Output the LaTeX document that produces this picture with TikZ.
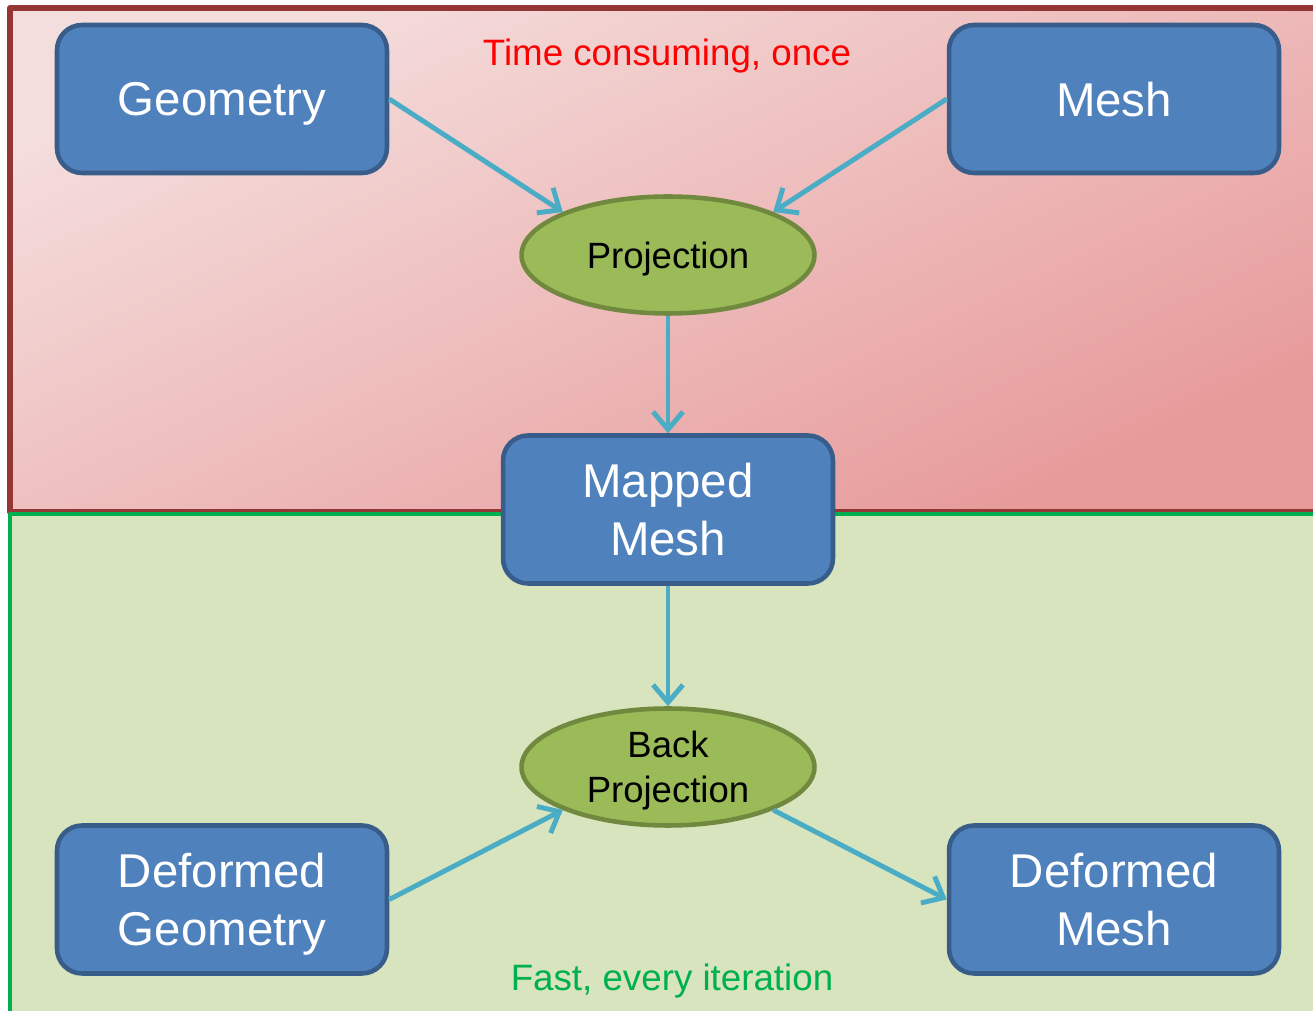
\documentclass[tikz,border=0pt]{standalone}
\usepackage{fontspec}
\setmainfont{Liberation Sans}
\usetikzlibrary{shapes.geometric,arrows.meta}
\definecolor{boxfill}{HTML}{4F81BD}
\definecolor{boxline}{HTML}{385D8A}
\definecolor{ellfill}{HTML}{9BBB59}
\definecolor{ellline}{HTML}{71893F}
\definecolor{arrcol}{HTML}{4BACC6}
\definecolor{redline}{HTML}{943634}
\definecolor{redlight}{HTML}{F4DEDD}
\definecolor{reddark}{HTML}{E79A9A}
\definecolor{grnline}{HTML}{00B050}
\definecolor{grnfill}{HTML}{D7E4BD}
\begin{document}
\begin{tikzpicture}[x=0.02cm, y=0.02cm, line join=round,
	blok/.style={draw=boxline, fill=boxfill, line width=2.6pt, rounded corners=0.5cm, minimum width=6.6cm, minimum height=2.96cm, inner sep=0pt, text depth=0pt, align=center, text=white, font=\fontsize{27}{33}\selectfont},
	oval/.style={ellipse, draw=ellline, fill=ellfill, line width=2.6pt, minimum width=5.86cm, minimum height=2.34cm, inner sep=0pt, text depth=0pt, align=center, font=\fontsize{20.8}{25.5}\selectfont},
	pijl/.style={draw=arrcol, line width=2.8pt, -{Straight Barb[length=10pt,width=17pt,line width=2.8pt]}}]
	\useasboundingbox (0,0) rectangle (1313,1011);
	\shade[top color=redlight, bottom color=reddark, shading angle=25] (10,499) rectangle (1330,1003);
	\draw[redline, line width=3.3pt] (1330,1003) -- (10,1003) -- (10,499) -- (1330,499);
	\fill[grnfill] (10,499) rectangle (1330,-20);
	\draw[grnline, line width=2.3pt] (1330,497) -- (10,497) -- (10,-20);
	\node[text=red, font=\fontsize{20.9}{25}\selectfont] (slow) at (667,955) {Time consuming, once};
	\node[text=grnline, font=\fontsize{20.9}{25}\selectfont] (fast) at (672,30) {Fast, every iteration};
	\node[blok] (geom) at (222,912) {Geometry};
	\node[blok] (mesh) at (1114,912) {Mesh};
	\node[oval] (proj) at (668,756) {Projection};
	\node[blok] (mapped) at (668,501.5) {Mapped\\Mesh};
	\node[oval] (back) at (668,244) {Back\\Projection};
	\node[blok] (dgeom) at (222,111.5) {Deformed\\Geometry};
	\node[blok] (dmesh) at (1114,111.5) {Deformed\\Mesh};
	\foreach \a/\b in {geom.east/proj.north west, mesh.west/proj.north east, proj.south/mapped.north, mapped.south/back.north, dgeom.east/back.south west, back.south east/dmesh.west} \draw[pijl] (\a) -- (\b);
\end{tikzpicture}
\end{document}
